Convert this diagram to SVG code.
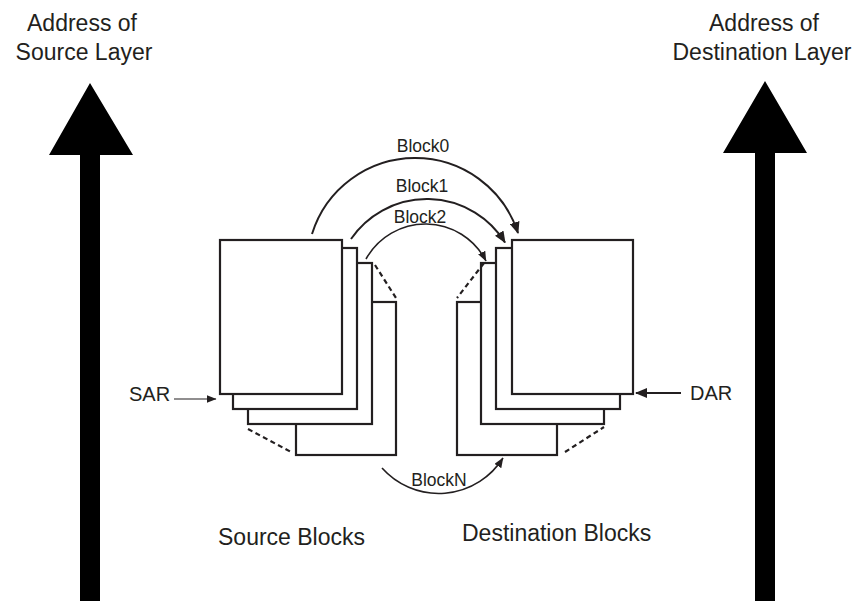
<svg xmlns="http://www.w3.org/2000/svg" width="860" height="601" viewBox="0 0 860 601">
<defs>
<style>
text{font-family:"Liberation Sans",Arial,sans-serif;fill:#231f20}
.big{font-size:23px}
.lbl{font-size:17.5px}
.reg{font-size:20px}
.blk{fill:#fff;stroke:#231f20;stroke-width:2.2}
.dash{fill:none;stroke:#231f20;stroke-width:2.2;stroke-dasharray:5 3.5}
.arc{fill:none;stroke:#231f20;stroke-width:2}
.arcthin{fill:none;stroke:#231f20;stroke-width:1.6}
</style>
<marker id="ah" markerWidth="12" markerHeight="10" refX="11" refY="5" orient="auto" markerUnits="userSpaceOnUse">
<path d="M0,0 L12,5 L0,10 Z" fill="#231f20"/>
</marker>
<marker id="ahs" markerWidth="10" markerHeight="8" refX="9.5" refY="4" orient="auto" markerUnits="userSpaceOnUse">
<path d="M0,0 L10,4 L0,8 Z" fill="#231f20"/>
</marker>
</defs>
<rect width="860" height="601" fill="#fff"/>

<g id="source-address">
<polygon points="90,83 133,155 100,155 100,601 80,601 80,155 49,155" fill="#000"/>
<text class="big" x="82" y="31" text-anchor="middle">Address of</text>
<text class="big" x="84" y="60" text-anchor="middle">Source Layer</text>
</g>

<g id="destination-address">
<polygon points="765,81 807,153 775,153 775,601 755,601 755,153 723,153" fill="#000"/>
<text class="big" x="764" y="31" text-anchor="middle">Address of</text>
<text class="big" x="762" y="60" text-anchor="middle">Destination Layer</text>
</g>

<g id="source-blocks">
<rect class="blk" x="296" y="302" width="100" height="153"/>
<rect class="blk" x="248" y="263" width="124" height="161"/>
<rect class="blk" x="233" y="248" width="124" height="161"/>
<rect class="blk" x="220" y="240" width="122" height="154"/>
<line class="dash" x1="375" y1="265" x2="396" y2="298"/>
<line class="dash" x1="248" y1="429" x2="293" y2="453"/>
<text class="big" x="218" y="545">Source Blocks</text>
</g>

<g id="destination-blocks">
<rect class="blk" x="457" y="302" width="100" height="153"/>
<rect class="blk" x="481" y="263" width="123" height="161"/>
<rect class="blk" x="496" y="248" width="124" height="161"/>
<rect class="blk" x="512" y="240" width="121" height="154"/>
<line class="dash" x1="484" y1="263" x2="457" y2="298"/>
<line class="dash" x1="565" y1="452" x2="604" y2="427"/>
<text class="big" x="462" y="541">Destination Blocks</text>
</g>

<g id="sar">
<text class="reg" x="129" y="400.5">SAR</text>
</g>
<g id="dar">
<text class="reg" x="690" y="400">DAR</text>
</g>

<g id="connectors">
<path class="arc" d="M312,234 A108,108 0 0 1 518,233" marker-end="url(#ah)"/>
<path class="arc" d="M351,239 A92,92 0 0 1 505,242.5" marker-end="url(#ah)"/>
<path class="arcthin" d="M366,259 A68,68 0 0 1 486,261" marker-end="url(#ahs)"/>
<path class="arcthin" d="M382,468 A76,76 0 0 0 503,458" marker-end="url(#ahs)"/>
<line x1="174" y1="399" x2="216" y2="399" stroke="#231f20" stroke-width="1.2" marker-end="url(#ahs)"/>
<line x1="681" y1="393" x2="636" y2="393" stroke="#231f20" stroke-width="2.2" marker-end="url(#ah)"/>
</g>

<g id="block-labels">
<text class="lbl" x="423" y="151.5" text-anchor="middle">Block0</text>
<text class="lbl" x="422" y="192" text-anchor="middle">Block1</text>
<text class="lbl" x="420" y="223" text-anchor="middle">Block2</text>
<text class="lbl" x="439" y="485.5" text-anchor="middle">BlockN</text>
</g>
</svg>
